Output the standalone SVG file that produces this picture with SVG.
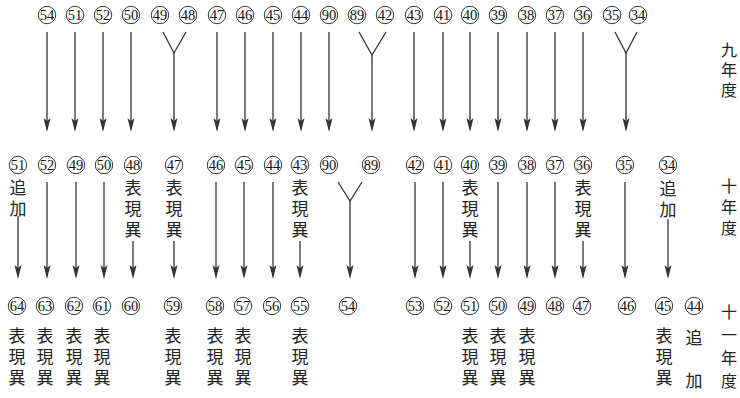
<svg xmlns="http://www.w3.org/2000/svg" width="740" height="398" viewBox="0 0 740 398">
<style>
.c{fill:none;stroke:#222;stroke-width:0.9}
.n{font-family:"Liberation Serif","DejaVu Serif",serif;font-size:14.5px;fill:#111;text-anchor:middle;dominant-baseline:central}
.j{font-family:"Noto Sans CJK JP","Noto Sans CJK SC",sans-serif;font-size:17px;fill:#222;writing-mode:vertical-rl;letter-spacing:4px}
.j1{font-family:"Noto Sans CJK JP","Noto Sans CJK SC",sans-serif;font-size:17px;fill:#222;text-anchor:middle;dominant-baseline:central}
.y{font-family:"Noto Sans CJK JP","Noto Sans CJK SC",sans-serif;font-size:16px;fill:#222;writing-mode:vertical-rl}
.l{stroke:#333;stroke-width:1.3;fill:none}
.a{stroke:#333;stroke-width:1.3;fill:none;marker-end:url(#ah)}
</style>
<defs>
<marker id="ah" markerUnits="userSpaceOnUse" viewBox="0 0 14 8" markerWidth="14" markerHeight="8" refX="11" refY="4" orient="auto">
<path d="M0,0.5 L14,4 L0,7.5 L3,4 Z" fill="#333"/>
</marker>
<g id="cn"><circle class="c" r="8.7"/></g>
</defs>

<!-- Year labels -->
<g id="year9"><text class="y" x="729" y="42" letter-spacing="4">九年度</text></g>
<g id="year10"><text class="y" x="729" y="178" letter-spacing="5">十年度</text></g>
<g id="year11"><text class="y" x="729" y="304" letter-spacing="7">十一年度</text></g>

<!-- Top row (9th year) -->
<g id="t54"><use href="#cn" x="47" y="15"/><text class="n" x="47" y="15">54</text></g>
<g id="t51"><use href="#cn" x="75" y="15"/><text class="n" x="75" y="15">51</text></g>
<g id="t52"><use href="#cn" x="103" y="15"/><text class="n" x="103" y="15">52</text></g>
<g id="t50"><use href="#cn" x="131" y="15"/><text class="n" x="131" y="15">50</text></g>
<g id="t49"><use href="#cn" x="160" y="15"/><text class="n" x="160" y="15">49</text></g>
<g id="t48"><use href="#cn" x="188" y="15"/><text class="n" x="188" y="15">48</text></g>
<g id="t47"><use href="#cn" x="217" y="15"/><text class="n" x="217" y="15">47</text></g>
<g id="t46"><use href="#cn" x="245" y="15"/><text class="n" x="245" y="15">46</text></g>
<g id="t45"><use href="#cn" x="273" y="15"/><text class="n" x="273" y="15">45</text></g>
<g id="t44"><use href="#cn" x="301" y="15"/><text class="n" x="301" y="15">44</text></g>
<g id="t90"><use href="#cn" x="329" y="15"/><text class="n" x="329" y="15">90</text></g>
<g id="t89"><use href="#cn" x="357" y="15"/><text class="n" x="357" y="15">89</text></g>
<g id="t42"><use href="#cn" x="385" y="15"/><text class="n" x="385" y="15">42</text></g>
<g id="t43"><use href="#cn" x="414" y="15"/><text class="n" x="414" y="15">43</text></g>
<g id="t41"><use href="#cn" x="443" y="15"/><text class="n" x="443" y="15">41</text></g>
<g id="t40"><use href="#cn" x="470" y="15"/><text class="n" x="470" y="15">40</text></g>
<g id="t39"><use href="#cn" x="498" y="15"/><text class="n" x="498" y="15">39</text></g>
<g id="t38"><use href="#cn" x="527" y="15"/><text class="n" x="527" y="15">38</text></g>
<g id="t37"><use href="#cn" x="555" y="15"/><text class="n" x="555" y="15">37</text></g>
<g id="t36"><use href="#cn" x="583" y="15"/><text class="n" x="583" y="15">36</text></g>
<g id="t35"><use href="#cn" x="612" y="15"/><text class="n" x="612" y="15">35</text></g>
<g id="t34"><use href="#cn" x="638" y="15"/><text class="n" x="638" y="15">34</text></g>

<!-- Middle row (10th year) -->
<g id="m51"><use href="#cn" x="18" y="165"/><text class="n" x="18" y="165">51</text><text class="j" x="18" y="179" letter-spacing="2">追加</text></g>
<g id="m52"><use href="#cn" x="47" y="165"/><text class="n" x="47" y="165">52</text></g>
<g id="m49"><use href="#cn" x="76" y="165"/><text class="n" x="76" y="165">49</text></g>
<g id="m50"><use href="#cn" x="104" y="165"/><text class="n" x="104" y="165">50</text></g>
<g id="m48"><use href="#cn" x="133" y="165"/><text class="n" x="133" y="165">48</text><text class="j" x="133" y="179.5">表現異</text></g>
<g id="m47"><use href="#cn" x="174" y="165"/><text class="n" x="174" y="165">47</text><text class="j" x="174" y="179.5">表現異</text></g>
<g id="m46"><use href="#cn" x="216" y="165"/><text class="n" x="216" y="165">46</text></g>
<g id="m45"><use href="#cn" x="244" y="165"/><text class="n" x="244" y="165">45</text></g>
<g id="m44"><use href="#cn" x="273" y="165"/><text class="n" x="273" y="165">44</text></g>
<g id="m43"><use href="#cn" x="300" y="165"/><text class="n" x="300" y="165">43</text><text class="j" x="300" y="179.5">表現異</text></g>
<g id="m90"><use href="#cn" x="329" y="165"/><text class="n" x="329" y="165">90</text></g>
<g id="m89"><use href="#cn" x="371" y="165"/><text class="n" x="371" y="165">89</text></g>
<g id="m42"><use href="#cn" x="415" y="165"/><text class="n" x="415" y="165">42</text></g>
<g id="m41"><use href="#cn" x="443" y="165"/><text class="n" x="443" y="165">41</text></g>
<g id="m40"><use href="#cn" x="470" y="165"/><text class="n" x="470" y="165">40</text><text class="j" x="470" y="179.5">表現異</text></g>
<g id="m39"><use href="#cn" x="498" y="165"/><text class="n" x="498" y="165">39</text></g>
<g id="m38"><use href="#cn" x="527" y="165"/><text class="n" x="527" y="165">38</text></g>
<g id="m37"><use href="#cn" x="555" y="165"/><text class="n" x="555" y="165">37</text></g>
<g id="m36"><use href="#cn" x="583" y="165"/><text class="n" x="583" y="165">36</text><text class="j" x="583" y="179.5">表現異</text></g>
<g id="m35"><use href="#cn" x="625" y="165"/><text class="n" x="625" y="165">35</text></g>
<g id="m34"><use href="#cn" x="668" y="165"/><text class="n" x="668" y="165">34</text><text class="j" x="668" y="180" letter-spacing="3">追加</text></g>

<!-- Bottom row (11th year) -->
<g id="b64"><use href="#cn" x="17" y="306"/><text class="n" x="17" y="306">64</text><text class="j" x="17" y="327.5">表現異</text></g>
<g id="b63"><use href="#cn" x="45" y="306"/><text class="n" x="45" y="306">63</text><text class="j" x="45" y="327.5">表現異</text></g>
<g id="b62"><use href="#cn" x="74" y="306"/><text class="n" x="74" y="306">62</text><text class="j" x="74" y="327.5">表現異</text></g>
<g id="b61"><use href="#cn" x="102" y="306"/><text class="n" x="102" y="306">61</text><text class="j" x="102" y="327.5">表現異</text></g>
<g id="b60"><use href="#cn" x="131" y="306"/><text class="n" x="131" y="306">60</text></g>
<g id="b59"><use href="#cn" x="173" y="306"/><text class="n" x="173" y="306">59</text><text class="j" x="173" y="327.5">表現異</text></g>
<g id="b58"><use href="#cn" x="215" y="306"/><text class="n" x="215" y="306">58</text><text class="j" x="215" y="327.5">表現異</text></g>
<g id="b57"><use href="#cn" x="243" y="306"/><text class="n" x="243" y="306">57</text><text class="j" x="243" y="327.5">表現異</text></g>
<g id="b56"><use href="#cn" x="272" y="306"/><text class="n" x="272" y="306">56</text></g>
<g id="b55"><use href="#cn" x="300" y="306"/><text class="n" x="300" y="306">55</text><text class="j" x="300" y="327.5">表現異</text></g>
<g id="b54"><use href="#cn" x="348" y="306"/><text class="n" x="348" y="306">54</text></g>
<g id="b53"><use href="#cn" x="415" y="306"/><text class="n" x="415" y="306">53</text></g>
<g id="b52"><use href="#cn" x="443" y="306"/><text class="n" x="443" y="306">52</text></g>
<g id="b51"><use href="#cn" x="470" y="306"/><text class="n" x="470" y="306">51</text><text class="j" x="470" y="327.5">表現異</text></g>
<g id="b50"><use href="#cn" x="498" y="306"/><text class="n" x="498" y="306">50</text><text class="j" x="498" y="327.5">表現異</text></g>
<g id="b49"><use href="#cn" x="527" y="306"/><text class="n" x="527" y="306">49</text><text class="j" x="527" y="327.5">表現異</text></g>
<g id="b48"><use href="#cn" x="555" y="306"/><text class="n" x="555" y="306">48</text></g>
<g id="b47"><use href="#cn" x="582" y="306"/><text class="n" x="582" y="306">47</text></g>
<g id="b46"><use href="#cn" x="627" y="306"/><text class="n" x="627" y="306">46</text></g>
<g id="b45"><use href="#cn" x="664" y="306"/><text class="n" x="664" y="306">45</text><text class="j" x="664" y="327.5">表現異</text></g>
<g id="b44"><use href="#cn" x="694" y="306"/><text class="n" x="694" y="306">44</text><text class="j1" x="694" y="336">追</text><text class="j1" x="694" y="379">加</text></g>

<!-- Connectors -->
<g id="connectors">
<!-- top -->
<path class="a" d="M47,32V129"/>
<path class="a" d="M75,32V129"/>
<path class="a" d="M103,32V129"/>
<path class="a" d="M131,32V129"/>
<path class="l" d="M163,32L174,53L186,32"/>
<path class="a" d="M174,53V129"/>
<path class="a" d="M217,32V129"/>
<path class="a" d="M245,32V129"/>
<path class="a" d="M273,32V129"/>
<path class="a" d="M301,32V129"/>
<path class="a" d="M329,32V129"/>
<path class="l" d="M359,32L372,55L386,32"/>
<path class="a" d="M372,55V129"/>
<path class="a" d="M414,32V129"/>
<path class="a" d="M443,32V129"/>
<path class="a" d="M470,32V129"/>
<path class="a" d="M498,32V129"/>
<path class="a" d="M527,32V129"/>
<path class="a" d="M555,32V129"/>
<path class="a" d="M583,32V129"/>
<path class="l" d="M615,32L626,53L637,32"/>
<path class="a" d="M626,53V129"/>
<!-- middle -->
<path class="a" d="M18,216V276"/>
<path class="a" d="M47,182V276"/>
<path class="a" d="M76,182V276"/>
<path class="a" d="M104,182V276"/>
<path class="a" d="M133,241V276"/>
<path class="a" d="M174,241V276"/>
<path class="a" d="M216,182V276"/>
<path class="a" d="M244,182V276"/>
<path class="a" d="M273,182V276"/>
<path class="a" d="M300,241V276"/>
<path class="l" d="M338,182L350,201L362,182"/>
<path class="a" d="M350,201V276"/>
<path class="a" d="M415,182V276"/>
<path class="a" d="M443,182V276"/>
<path class="a" d="M470,241V276"/>
<path class="a" d="M498,182V276"/>
<path class="a" d="M527,182V276"/>
<path class="a" d="M555,182V276"/>
<path class="a" d="M583,241V276"/>
<path class="a" d="M625,182V276"/>
<path class="a" d="M668,219V276"/>
</g>
</svg>
